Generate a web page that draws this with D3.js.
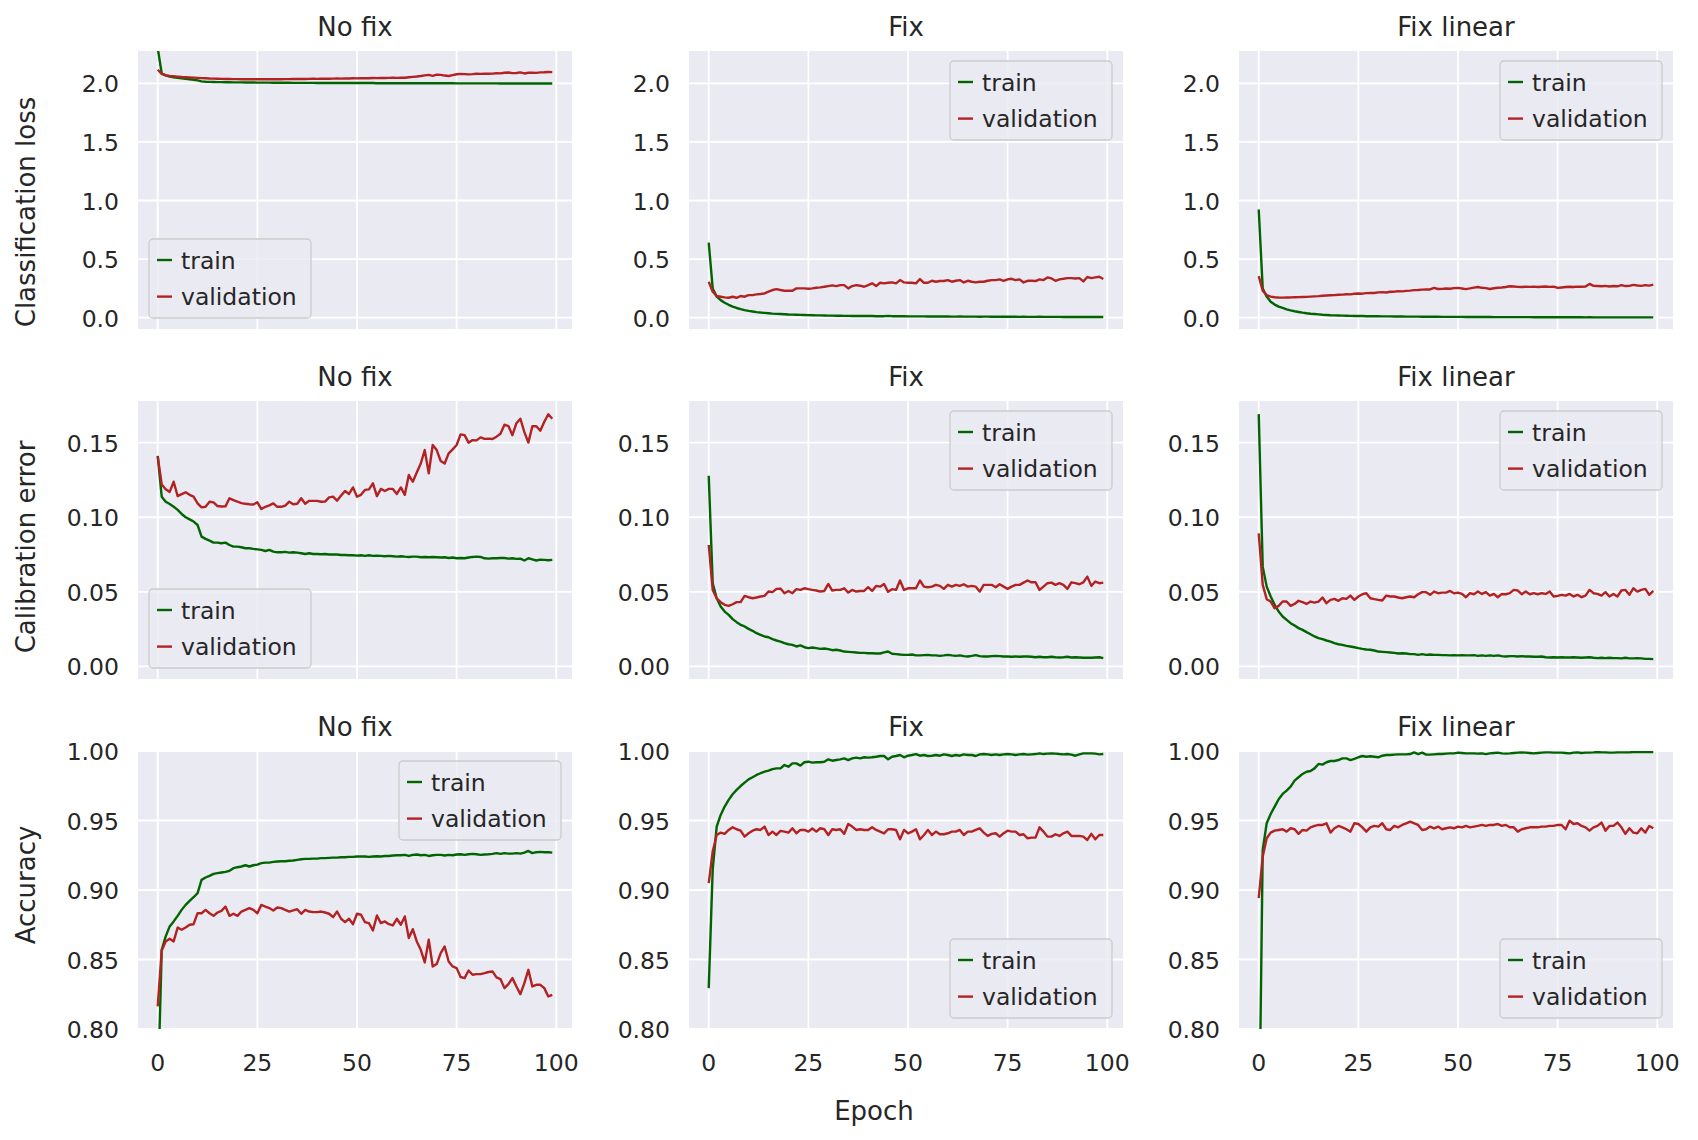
<!DOCTYPE html>
<html>
<head>
<meta charset="utf-8">
<script src="https://cdn.jsdelivr.net/npm/d3@7"></script>
<style>
  body { margin: 0; background: #fff; }
  svg { font-family: "DejaVu Sans", sans-serif; }
</style>
</head>
<body>
<svg id="chart" width="1698" height="1140"></svg>
<script>
// ---- data (one value per epoch, 0..99) ----
const columnTitles = ["No fix", "Fix", "Fix linear"];
const rowLabels = ["Classification loss", "Calibration error", "Accuracy"];
const xTicks = [0, 25, 50, 75, 100];
const lossTicks = [0, 0.5, 1.0, 1.5, 2.0];
const calTicks = [0, 0.05, 0.10, 0.15];
const accTicks = [0.80, 0.85, 0.90, 0.95, 1.00];

const nofixLossTrain = [2.30,2.085,2.068,2.058,2.052,2.047,2.042,2.038,2.034,2.030,
2.025,2.016,2.013,2.012,2.011,2.010,2.010,2.009,2.009,2.008,
2.008,2.008,2.007,2.007,2.007,2.006,2.006,2.006,2.006,2.005,
2.005,2.005,2.005,2.005,2.004,2.004,2.004,2.004,2.004,2.004,
2.003,2.003,2.003,2.003,2.003,2.003,2.003,2.002,2.002,2.002,
2.002,2.002,2.002,2.002,2.002,2.001,2.001,2.001,2.001,2.001,
2.001,2.001,2.001,2.001,2.000,2.000,2.000,2.000,2.000,2.000,
2.000,2.000,2.000,2.000,2.000,1.999,1.999,1.999,1.999,1.999,
1.999,1.999,1.999,1.999,1.999,1.999,1.998,1.998,1.998,1.998,
1.998,1.998,1.998,1.998,1.998,1.998,1.998,1.998,1.998,1.998];
const nofixLossVal = [2.116,2.080,2.068,2.062,2.060,2.057,2.054,2.052,2.050,2.048,
2.046,2.044,2.043,2.041,2.040,2.039,2.038,2.037,2.037,2.036,
2.036,2.035,2.035,2.034,2.035,2.034,2.034,2.035,2.034,2.035,
2.036,2.035,2.036,2.036,2.037,2.037,2.038,2.037,2.038,2.039,
2.038,2.039,2.040,2.039,2.040,2.041,2.040,2.042,2.041,2.043,
2.042,2.043,2.044,2.043,2.045,2.044,2.046,2.045,2.046,2.047,
2.046,2.048,2.047,2.052,2.055,2.058,2.062,2.068,2.072,2.064,
2.074,2.072,2.066,2.062,2.070,2.077,2.080,2.078,2.076,2.078,
2.081,2.080,2.082,2.081,2.083,2.086,2.085,2.090,2.092,2.087,
2.088,2.093,2.084,2.090,2.091,2.089,2.093,2.094,2.096,2.095];
const fixLossTrain = [0.64,0.25,0.18,0.15,0.128,0.110,0.095,0.083,0.073,0.065,
0.058,0.053,0.048,0.044,0.041,0.038,0.035,0.033,0.031,0.029,
0.027,0.026,0.025,0.024,0.023,0.022,0.021,0.020,0.020,0.019,
0.018,0.018,0.017,0.017,0.016,0.016,0.015,0.015,0.015,0.014,
0.014,0.014,0.013,0.013,0.013,0.016,0.013,0.012,0.012,0.012,
0.011,0.011,0.011,0.011,0.011,0.010,0.010,0.011,0.010,0.010,
0.010,0.009,0.009,0.010,0.009,0.009,0.009,0.009,0.008,0.009,
0.009,0.008,0.008,0.008,0.008,0.008,0.008,0.008,0.007,0.008,
0.007,0.007,0.007,0.008,0.007,0.007,0.007,0.007,0.007,0.006,
0.007,0.006,0.006,0.006,0.007,0.006,0.006,0.006,0.006,0.006];
const fixLossVal = [0.307,0.222,0.185,0.179,0.173,0.170,0.179,0.170,0.185,0.179,
0.193,0.193,0.199,0.202,0.207,0.222,0.236,0.244,0.236,0.230,
0.230,0.230,0.250,0.250,0.250,0.247,0.250,0.256,0.259,0.264,
0.270,0.276,0.270,0.278,0.278,0.250,0.270,0.278,0.273,0.264,
0.278,0.293,0.270,0.298,0.293,0.298,0.301,0.293,0.321,0.301,
0.298,0.298,0.293,0.330,0.298,0.298,0.315,0.307,0.313,0.313,
0.321,0.307,0.315,0.321,0.301,0.315,0.307,0.301,0.307,0.307,
0.315,0.321,0.321,0.327,0.315,0.327,0.332,0.321,0.327,0.301,
0.315,0.315,0.313,0.327,0.321,0.344,0.335,0.315,0.327,0.332,
0.338,0.338,0.335,0.338,0.310,0.347,0.338,0.344,0.349,0.330];
const linLossTrain = [0.923,0.25,0.18,0.136,0.112,0.094,0.083,0.071,0.062,0.055,
0.049,0.043,0.038,0.034,0.031,0.028,0.025,0.023,0.021,0.020,
0.019,0.018,0.017,0.016,0.015,0.014,0.014,0.013,0.013,0.012,
0.012,0.011,0.011,0.011,0.010,0.010,0.010,0.009,0.009,0.009,
0.009,0.008,0.008,0.008,0.008,0.008,0.007,0.007,0.007,0.007,
0.007,0.007,0.006,0.006,0.006,0.006,0.006,0.006,0.006,0.005,
0.005,0.005,0.005,0.005,0.005,0.005,0.005,0.005,0.005,0.004,
0.004,0.004,0.004,0.004,0.004,0.004,0.004,0.004,0.004,0.004,
0.004,0.004,0.003,0.004,0.003,0.003,0.003,0.003,0.003,0.003,
0.003,0.003,0.003,0.003,0.003,0.003,0.003,0.003,0.003,0.003];
const linLossVal = [0.355,0.230,0.193,0.180,0.175,0.172,0.171,0.172,0.173,0.175,
0.176,0.177,0.178,0.180,0.182,0.184,0.187,0.189,0.191,0.193,
0.196,0.197,0.200,0.199,0.204,0.206,0.205,0.210,0.212,0.211,
0.216,0.218,0.215,0.221,0.222,0.226,0.225,0.229,0.231,0.235,
0.236,0.240,0.242,0.241,0.254,0.245,0.246,0.249,0.247,0.252,
0.254,0.249,0.244,0.250,0.257,0.262,0.255,0.252,0.245,0.251,
0.256,0.258,0.262,0.268,0.266,0.263,0.262,0.264,0.263,0.265,
0.262,0.264,0.266,0.263,0.265,0.254,0.258,0.262,0.264,0.262,
0.265,0.264,0.266,0.288,0.272,0.270,0.268,0.272,0.266,0.270,
0.268,0.278,0.270,0.272,0.280,0.275,0.272,0.278,0.274,0.282];

const nofixCalTrain = [0.1412,0.1138,0.1104,0.1089,0.1071,0.1049,0.1022,0.1000,0.0986,0.0971,
0.0948,0.0870,0.0855,0.0843,0.0830,0.0830,0.0826,0.0830,0.0814,0.0803,
0.0803,0.0799,0.0792,0.0792,0.0788,0.0785,0.0781,0.0774,0.0781,0.0770,
0.0765,0.0765,0.0768,0.0763,0.0765,0.0763,0.0759,0.0754,0.0759,0.0754,
0.0754,0.0752,0.0754,0.0750,0.0750,0.0750,0.0747,0.0747,0.0745,0.0745,
0.0743,0.0745,0.0741,0.0745,0.0741,0.0743,0.0741,0.0739,0.0741,0.0739,
0.0736,0.0739,0.0736,0.0734,0.0736,0.0736,0.0732,0.0734,0.0732,0.0734,
0.0732,0.0730,0.0732,0.0727,0.0730,0.0725,0.0727,0.0725,0.0730,0.0734,
0.0736,0.0734,0.0725,0.0723,0.0725,0.0725,0.0727,0.0727,0.0723,0.0725,
0.0721,0.0723,0.0710,0.0725,0.0718,0.0710,0.0716,0.0714,0.0712,0.0714];
const nofixCalVal = [0.1406,0.1220,0.1187,0.1170,0.1238,0.1142,0.1155,0.1167,0.1150,0.1138,
0.1093,0.1066,0.1070,0.1104,0.1100,0.1075,0.1072,0.1073,0.1127,0.1115,
0.1104,0.1095,0.1090,0.1087,0.1085,0.1100,0.1055,0.1070,0.1080,0.1093,
0.1070,0.1070,0.1078,0.1104,0.1087,0.1090,0.1127,0.1090,0.1110,0.1110,
0.1110,0.1104,0.1105,0.1133,0.1138,0.1111,0.1145,0.1176,0.1156,0.1200,
0.1138,0.1150,0.1183,0.1187,0.1227,0.1142,0.1190,0.1176,0.1190,0.1190,
0.1156,0.1200,0.1150,0.1283,0.1238,0.1300,0.1360,0.1450,0.1294,0.1484,
0.1450,0.1377,0.1360,0.1428,0.1455,0.1484,0.1555,0.1550,0.1500,0.1517,
0.1515,0.1535,0.1525,0.1527,0.1524,0.1540,0.1560,0.1620,0.1611,0.1550,
0.1630,0.1660,0.1570,0.1500,0.1610,0.1610,0.1580,0.1640,0.1690,0.1660];
const fixCalTrain = [0.1278,0.0558,0.0457,0.0402,0.0368,0.0346,0.0317,0.0297,0.0279,0.0268,
0.0252,0.0239,0.0223,0.0212,0.0201,0.0196,0.0183,0.0174,0.0167,0.0156,
0.0149,0.0145,0.0134,0.0141,0.0129,0.0123,0.0127,0.0123,0.0118,0.0120,
0.0116,0.0109,0.0112,0.0107,0.0100,0.0098,0.0096,0.0094,0.0091,0.0091,
0.0089,0.0089,0.0087,0.0087,0.0094,0.0100,0.0085,0.0083,0.0080,0.0078,
0.0078,0.0080,0.0074,0.0074,0.0076,0.0078,0.0074,0.0074,0.0071,0.0074,
0.0078,0.0074,0.0071,0.0074,0.0069,0.0067,0.0071,0.0076,0.0069,0.0067,
0.0067,0.0069,0.0071,0.0069,0.0067,0.0067,0.0065,0.0067,0.0065,0.0067,
0.0067,0.0065,0.0062,0.0065,0.0062,0.0062,0.0065,0.0062,0.0060,0.0062,
0.0065,0.0060,0.0062,0.0060,0.0058,0.0058,0.0058,0.0060,0.0062,0.0056];
const fixCalVal = [0.0814,0.0513,0.0457,0.0431,0.0413,0.0406,0.0417,0.0431,0.0431,0.0473,
0.0464,0.0457,0.0462,0.0469,0.0473,0.0502,0.0498,0.0520,0.0522,0.0491,
0.0506,0.0491,0.0518,0.0513,0.0524,0.0518,0.0513,0.0509,0.0502,0.0506,
0.0553,0.0509,0.0513,0.0513,0.0524,0.0495,0.0513,0.0502,0.0506,0.0506,
0.0531,0.0506,0.0540,0.0535,0.0553,0.0500,0.0518,0.0513,0.0576,0.0513,
0.0524,0.0524,0.0524,0.0576,0.0535,0.0531,0.0535,0.0547,0.0540,0.0520,
0.0547,0.0535,0.0547,0.0540,0.0551,0.0535,0.0540,0.0535,0.0502,0.0547,
0.0547,0.0547,0.0531,0.0551,0.0535,0.0520,0.0535,0.0547,0.0547,0.0562,
0.0576,0.0564,0.0564,0.0513,0.0535,0.0558,0.0562,0.0547,0.0558,0.0547,
0.0520,0.0564,0.0558,0.0551,0.0564,0.0602,0.0540,0.0569,0.0558,0.0562];
const linCalTrain = [0.1691,0.0669,0.0535,0.0469,0.0413,0.0368,0.0335,0.0312,0.0290,0.0274,
0.0257,0.0245,0.0230,0.0216,0.0201,0.0190,0.0183,0.0174,0.0167,0.0156,
0.0149,0.0145,0.0138,0.0134,0.0129,0.0123,0.0118,0.0114,0.0112,0.0107,
0.0100,0.0098,0.0096,0.0094,0.0091,0.0087,0.0089,0.0087,0.0083,0.0083,
0.0078,0.0083,0.0078,0.0080,0.0078,0.0078,0.0076,0.0076,0.0074,0.0076,
0.0074,0.0076,0.0074,0.0074,0.0076,0.0071,0.0074,0.0071,0.0074,0.0071,
0.0074,0.0069,0.0067,0.0069,0.0069,0.0067,0.0069,0.0067,0.0067,0.0065,
0.0065,0.0067,0.0062,0.0060,0.0062,0.0060,0.0062,0.0060,0.0060,0.0062,
0.0060,0.0058,0.0060,0.0062,0.0058,0.0056,0.0058,0.0056,0.0058,0.0056,
0.0056,0.0054,0.0058,0.0054,0.0054,0.0056,0.0054,0.0051,0.0051,0.0049];
const linCalVal = [0.0892,0.0547,0.0451,0.0435,0.0390,0.0406,0.0435,0.0435,0.0406,0.0419,
0.0440,0.0431,0.0419,0.0435,0.0428,0.0435,0.0462,0.0424,0.0446,0.0453,
0.0440,0.0457,0.0453,0.0475,0.0446,0.0469,0.0484,0.0491,0.0457,0.0451,
0.0446,0.0442,0.0475,0.0469,0.0469,0.0462,0.0457,0.0464,0.0469,0.0464,
0.0484,0.0498,0.0498,0.0480,0.0502,0.0491,0.0495,0.0495,0.0506,0.0491,
0.0495,0.0486,0.0464,0.0491,0.0484,0.0502,0.0486,0.0498,0.0475,0.0486,
0.0464,0.0486,0.0484,0.0491,0.0513,0.0509,0.0484,0.0502,0.0484,0.0491,
0.0484,0.0491,0.0486,0.0502,0.0469,0.0473,0.0480,0.0475,0.0486,0.0469,
0.0480,0.0464,0.0475,0.0513,0.0491,0.0486,0.0475,0.0498,0.0469,0.0486,
0.0469,0.0509,0.0513,0.0480,0.0524,0.0502,0.0513,0.0520,0.0480,0.0506];

const nofixAccTrain = [0.75,0.857,0.8666,0.8738,0.8774,0.8814,0.8857,0.8893,0.8922,0.8948,
0.8977,0.9073,0.9090,0.9102,0.9116,0.9121,0.9126,0.9130,0.9138,0.9157,
0.9164,0.9169,0.9178,0.9169,0.9178,0.9183,0.9193,0.9197,0.9197,0.9202,
0.9205,0.9207,0.9207,0.9210,0.9212,0.9217,0.9221,0.9224,0.9224,0.9226,
0.9226,0.9229,0.9229,0.9231,0.9233,0.9233,0.9236,0.9236,0.9238,0.9238,
0.9241,0.9241,0.9241,0.9238,0.9241,0.9243,0.9241,0.9245,0.9245,0.9248,
0.9250,0.9250,0.9253,0.9245,0.9253,0.9255,0.9250,0.9253,0.9245,0.9250,
0.9253,0.9253,0.9248,0.9253,0.9250,0.9255,0.9257,0.9253,0.9257,0.9260,
0.9257,0.9253,0.9255,0.9257,0.9260,0.9265,0.9260,0.9265,0.9262,0.9262,
0.9265,0.9262,0.9269,0.9281,0.9265,0.9272,0.9274,0.9272,0.9272,0.9269];
const nofixAccVal = [0.8163,0.8565,0.8630,0.8650,0.8630,0.8730,0.8714,0.8730,0.8750,0.8754,
0.8833,0.8833,0.8857,0.8833,0.8814,0.8838,0.8850,0.8881,0.8814,0.8829,
0.8814,0.8845,0.8857,0.8870,0.8857,0.8833,0.8893,0.8881,0.8870,0.8853,
0.8874,0.8870,0.8857,0.8845,0.8853,0.8862,0.8829,0.8857,0.8845,0.8841,
0.8841,0.8845,0.8838,0.8829,0.8805,0.8845,0.8793,0.8769,0.8793,0.8754,
0.8829,0.8822,0.8769,0.8762,0.8709,0.8817,0.8762,0.8774,0.8754,0.8745,
0.8793,0.8750,0.8810,0.8654,0.8718,0.8630,0.8570,0.8479,0.8642,0.8450,
0.8467,0.8546,0.8594,0.8486,0.8450,0.8438,0.8374,0.8366,0.8421,0.8390,
0.8395,0.8395,0.8402,0.8410,0.8414,0.8371,0.8359,0.8294,0.8323,0.8366,
0.8306,0.8251,0.8330,0.8426,0.8306,0.8318,0.8318,0.8294,0.8234,0.8246];
const fixAccTrain = [0.8294,0.915,0.9456,0.954,0.960,0.9648,0.9689,0.972,0.9748,0.9772,
0.9796,0.9811,0.9828,0.9840,0.9851,0.9859,0.9870,0.9875,0.9875,0.9899,
0.9887,0.9911,0.9911,0.9895,0.9919,0.9923,0.9916,0.9919,0.9919,0.9923,
0.9940,0.9930,0.9935,0.9940,0.9947,0.9935,0.9947,0.9952,0.9947,0.9955,
0.9952,0.9955,0.9959,0.9964,0.9964,0.9940,0.9959,0.9964,0.9971,0.9955,
0.9966,0.9971,0.9978,0.9966,0.9971,0.9964,0.9966,0.9971,0.9966,0.9976,
0.9971,0.9964,0.9971,0.9966,0.9976,0.9971,0.9971,0.9964,0.9976,0.9978,
0.9976,0.9971,0.9976,0.9971,0.9976,0.9978,0.9976,0.9971,0.9976,0.9978,
0.9974,0.9976,0.9978,0.9983,0.9978,0.9981,0.9983,0.9981,0.9978,0.9976,
0.9978,0.9974,0.9966,0.9976,0.9983,0.9983,0.9983,0.9981,0.9976,0.9978];
const fixAccVal = [0.9049,0.9277,0.9396,0.9413,0.9404,0.9432,0.9451,0.9437,0.9427,0.9384,
0.9408,0.9427,0.9437,0.9432,0.9456,0.9396,0.9420,0.9396,0.9425,0.9420,
0.9413,0.9444,0.9408,0.9432,0.9432,0.9420,0.9442,0.9420,0.9444,0.9437,
0.9396,0.9437,0.9432,0.9437,0.9404,0.9475,0.9456,0.9432,0.9437,0.9432,
0.9432,0.9451,0.9432,0.9420,0.9408,0.9437,0.9437,0.9432,0.9365,0.9432,
0.9408,0.9420,0.9437,0.9365,0.9396,0.9432,0.9396,0.9420,0.9401,0.9401,
0.9408,0.9420,0.9420,0.9432,0.9396,0.9420,0.9420,0.9432,0.9444,0.9413,
0.9389,0.9404,0.9408,0.9384,0.9408,0.9427,0.9420,0.9420,0.9396,0.9401,
0.9372,0.9377,0.9377,0.9451,0.9420,0.9384,0.9384,0.9401,0.9389,0.9408,
0.9420,0.9389,0.9389,0.9389,0.9384,0.9360,0.9404,0.9365,0.9396,0.9396];
const linAccTrain = [0.70,0.9289,0.948,0.9547,0.960,0.9653,0.9691,0.9715,0.9744,0.9787,
0.9811,0.9835,0.9851,0.9856,0.9875,0.9907,0.9902,0.9919,0.9928,0.9928,
0.9935,0.9947,0.9947,0.9935,0.9943,0.9955,0.9964,0.9959,0.9962,0.9959,
0.9955,0.9966,0.9971,0.9971,0.9974,0.9976,0.9976,0.9976,0.9978,0.9990,
0.9978,0.9988,0.9974,0.9974,0.9976,0.9978,0.9978,0.9981,0.9983,0.9983,
0.9988,0.9986,0.9983,0.9983,0.9983,0.9981,0.9983,0.9978,0.9983,0.9986,
0.9988,0.9983,0.9981,0.9983,0.9986,0.9988,0.9990,0.9988,0.9986,0.9983,
0.9986,0.9988,0.9990,0.9990,0.9988,0.9988,0.9988,0.9986,0.9983,0.9988,
0.9990,0.9986,0.9988,0.9988,0.9990,0.9993,0.9990,0.9990,0.9988,0.9988,
0.9990,0.9990,0.9990,0.9990,0.9993,0.9993,0.9993,0.9993,0.9993,0.9993];
const linAccVal = [0.8941,0.9241,0.9372,0.9413,0.9427,0.9432,0.9437,0.9420,0.9444,0.9437,
0.9404,0.9432,0.9427,0.9451,0.9461,0.9468,0.9468,0.9480,0.9413,0.9444,
0.9461,0.9451,0.9437,0.9420,0.9480,0.9475,0.9451,0.9420,0.9451,0.9461,
0.9456,0.9480,0.9437,0.9432,0.9461,0.9451,0.9468,0.9480,0.9492,0.9480,
0.9468,0.9432,0.9437,0.9456,0.9444,0.9456,0.9437,0.9444,0.9451,0.9444,
0.9456,0.9451,0.9461,0.9451,0.9456,0.9461,0.9468,0.9461,0.9468,0.9468,
0.9475,0.9461,0.9468,0.9451,0.9451,0.9420,0.9437,0.9444,0.9451,0.9451,
0.9451,0.9456,0.9456,0.9461,0.9461,0.9468,0.9468,0.9437,0.9499,0.9475,
0.9480,0.9461,0.9451,0.9427,0.9451,0.9461,0.9485,0.9427,0.9461,0.9461,
0.9485,0.9451,0.9404,0.9444,0.9413,0.9408,0.9444,0.9413,0.9461,0.9444];

// ---- layout ----
const W = 1698, H = 1140;
const panelLeft = [138, 689, 1239];
const panelTop = [51, 401, 751];
const panelW = 434, panelH = 278;
const textColor = "#262626";
const trainColor = "darkgreen", valColor = "firebrick";

const rows = [
  { ticks: lossTicks, fmt: d3.format(".1f"), domain: [-0.0964, 2.2756],
    series: [[nofixLossTrain, nofixLossVal], [fixLossTrain, fixLossVal], [linLossTrain, linLossVal]],
    legend: ["lower left", "upper right", "upper right"] },
  { ticks: calTicks, fmt: d3.format(".2f"), domain: [-0.0084, 0.1779],
    series: [[nofixCalTrain, nofixCalVal], [fixCalTrain, fixCalVal], [linCalTrain, linCalVal]],
    legend: ["lower left", "upper right", "upper right"] },
  { ticks: accTicks, fmt: d3.format(".2f"), domain: [0.8, 1.0],
    series: [[nofixAccTrain, nofixAccVal], [fixAccTrain, fixAccVal], [linAccTrain, linAccVal]],
    legend: ["upper right", "lower right", "lower right"] }
];

const svg = d3.select("#chart");
svg.append("rect").attr("width", W).attr("height", H).attr("fill", "#fff");
const defs = svg.append("defs");

const x = d3.scaleLinear().domain([-4.95, 103.95]).range([0, panelW]);

rows.forEach((row, r) => {
  const y = d3.scaleLinear().domain(row.domain).range([panelH, 0]);

  columnTitles.forEach((title, c) => {
    const g = svg.append("g")
      .attr("transform", `translate(${panelLeft[c]},${panelTop[r]})`);

    g.append("rect").attr("width", panelW).attr("height", panelH).attr("fill", "#EAEAF2");

    // grid
    g.selectAll(".gx").data(xTicks).join("line")
      .attr("class", "gx")
      .attr("x1", d => x(d)).attr("x2", d => x(d))
      .attr("y1", 0).attr("y2", panelH)
      .attr("stroke", "#fff").attr("stroke-width", 1.8);
    g.selectAll(".gy").data(row.ticks).join("line")
      .attr("class", "gy")
      .attr("x1", 0).attr("x2", panelW)
      .attr("y1", d => y(d)).attr("y2", d => y(d))
      .attr("stroke", "#fff").attr("stroke-width", 1.8);

    // y tick labels
    g.selectAll(".yt").data(row.ticks).join("text")
      .attr("class", "yt")
      .attr("x", -19).attr("y", d => y(d) + 9)
      .attr("text-anchor", "end")
      .attr("font-size", 23.5).attr("fill", textColor)
      .text(d => row.fmt(d));

    // x tick labels only on bottom row
    if (r === rows.length - 1) {
      g.selectAll(".xt").data(xTicks).join("text")
        .attr("class", "xt")
        .attr("x", d => x(d)).attr("y", panelH + 42)
        .attr("text-anchor", "middle")
        .attr("font-size", 23.5).attr("fill", textColor)
        .text(d => d);
    }

    // title
    g.append("text")
      .attr("x", panelW / 2).attr("y", -15)
      .attr("text-anchor", "middle")
      .attr("font-size", 26).attr("fill", textColor)
      .text(title);

    // lines, clipped to the panel
    const clipId = `clip-${r}-${c}`;
    defs.append("clipPath").attr("id", clipId)
      .append("rect").attr("width", panelW).attr("height", panelH);
    const line = d3.line().x((d, i) => x(i)).y(d => y(d));
    const [train, val] = row.series[c];
    const lg = g.append("g").attr("clip-path", `url(#${clipId})`);
    lg.append("path").datum(train).attr("d", line)
      .attr("fill", "none").attr("stroke", trainColor)
      .attr("stroke-width", 2.4).attr("stroke-linejoin", "round");
    lg.append("path").datum(val).attr("d", line)
      .attr("fill", "none").attr("stroke", valColor)
      .attr("stroke-width", 2.4).attr("stroke-linejoin", "round");

    // legend
    const lw = 162, lh = 79, pad = 11;
    const corner = row.legend[c];
    const lx = corner.includes("left") ? pad : panelW - pad - lw;
    const ly = corner.includes("upper") ? pad - 1 : panelH - pad - lh;
    const leg = g.append("g").attr("transform", `translate(${lx},${ly})`);
    leg.append("rect").attr("width", lw).attr("height", lh).attr("rx", 4)
      .attr("fill", "#EAEAF2").attr("fill-opacity", 0.8)
      .attr("stroke", "#cccccc").attr("stroke-width", 1.3);
    [["train", trainColor], ["validation", valColor]].forEach(([name, col], i) => {
      const cy = 21 + i * 36.6;
      leg.append("line").attr("x1", 8).attr("x2", 23).attr("y1", cy).attr("y2", cy)
        .attr("stroke", col).attr("stroke-width", 2.4);
      leg.append("text").attr("x", 32).attr("y", cy + 8.5)
        .attr("font-size", 23.5).attr("fill", textColor).text(name);
    });
  });
});

// row labels
const rowLabelY = [212, 547, 885];
rowLabels.forEach((label, r) => {
  svg.append("text")
    .attr("transform", `translate(35,${rowLabelY[r]}) rotate(-90)`)
    .attr("text-anchor", "middle")
    .attr("font-size", 26).attr("fill", textColor)
    .text(label);
});

// shared x label
svg.append("text")
  .attr("x", 874).attr("y", 1120)
  .attr("text-anchor", "middle")
  .attr("font-size", 26).attr("fill", textColor)
  .text("Epoch");
</script>
</body>
</html>
